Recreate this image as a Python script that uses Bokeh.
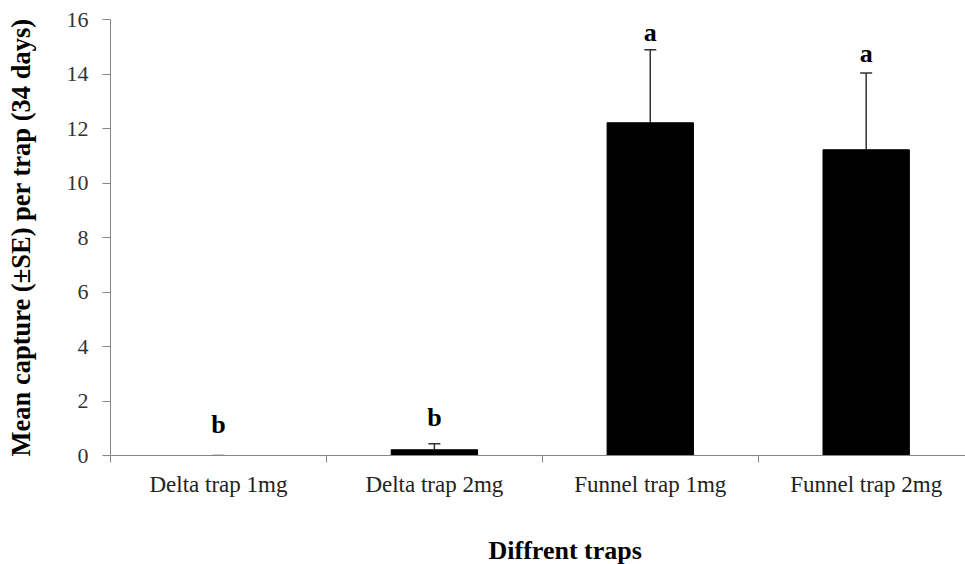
from bokeh.plotting import figure
from bokeh.models import Range1d, FixedTicker, Whisker, ColumnDataSource, TeeHead, Title
from bokeh.core.properties import value
from bokeh.embed import file_html
from bokeh.resources import INLINE

categories = ["Delta trap 1mg", "Delta trap 2mg", "Funnel trap 1mg", "Funnel trap 2mg"]
means = [0.0, 0.21, 12.21, 11.22]
se = [0.0, 0.22, 2.68, 2.82]
letters = ["b", "b", "a", "a"]
letter_y = [1.12, 1.39, 15.54, 14.74]
x_title = "Diffrent traps"
y_title = "Mean capture (\u00b1SE) per trap (34 days)"

xs = [i + 0.5 for i in range(len(categories))]
upper = [m + s for m, s in zip(means, se)]

src = ColumnDataSource(dict(x=xs, top=means, upper=upper, lower=means, letter=letters, ly=letter_y))

FONT = "Liberation Serif"
AX = "#868686"
p = figure(width=965, height=564, output_backend="svg", toolbar_location=None,
           x_range=Range1d(0, 3.96), y_range=Range1d(0, 16),
           min_border_left=110, min_border_right=0, min_border_top=19, min_border_bottom=109)
p.outline_line_color = None
p.xgrid.visible = False
p.ygrid.visible = False
p.background_fill_color = "white"
p.border_fill_color = "white"

p.vbar(x="x", top="top", width=0.4, bottom=0, source=src, fill_color="black", line_color="black")

w = Whisker(base="x", upper="upper", lower="lower", source=src, dimension="height",
            line_color="#333333", line_width=1.5,
            upper_head=TeeHead(size=12, line_color="#333333", line_width=1.5), lower_head=None)
p.add_layout(w)

p.text(x="x", y="ly", text="letter", source=src, text_font=value(FONT), text_font_style="bold",
       text_font_size="26px", text_align="center", text_baseline="middle", text_color="black")

# y axis
p.yaxis.ticker = FixedTicker(ticks=list(range(0, 17, 2)))
p.yaxis.axis_line_color = AX
p.yaxis.major_tick_line_color = AX
p.yaxis.major_tick_out = 8
p.yaxis.major_tick_in = 0
p.yaxis.minor_tick_line_color = None
p.yaxis.major_label_text_font = FONT
p.yaxis.major_label_text_font_size = "22px"
p.yaxis.major_label_text_color = "#333333"
p.yaxis.major_label_standoff = 14
p.yaxis.axis_label = y_title
p.yaxis.axis_label_text_font = FONT
p.yaxis.axis_label_text_font_style = "bold"
p.yaxis.axis_label_text_font_size = "26.5px"
p.yaxis.axis_label_text_color = "black"
p.yaxis.axis_label_standoff = 28

# x axis
p.xaxis.ticker = FixedTicker(ticks=xs, minor_ticks=list(range(0, len(categories) + 1)))
p.xaxis.major_label_overrides = {x: c for x, c in zip(xs, categories)}
p.xaxis.axis_line_color = AX
p.xaxis.major_tick_line_color = None
p.xaxis.minor_tick_line_color = AX
p.xaxis.minor_tick_out = 7
p.xaxis.minor_tick_in = 0
p.xaxis.major_label_text_font = FONT
p.xaxis.major_label_text_font_size = "23px"
p.xaxis.major_label_text_color = "#222222"
p.xaxis.major_label_standoff = 9
# invisible spacer between tick labels and the axis title
p.xaxis.axis_label = "\u00a0"
p.xaxis.axis_label_text_font_size = "1px"
p.xaxis.axis_label_standoff = 30

xt = Title(text=x_title, align="left", offset=378, text_font=FONT,
           text_font_style="bold", text_font_size="26px", text_color="black", standoff=0)
p.add_layout(xt, "below")

open("out.html", "w").write(file_html(p, INLINE))
